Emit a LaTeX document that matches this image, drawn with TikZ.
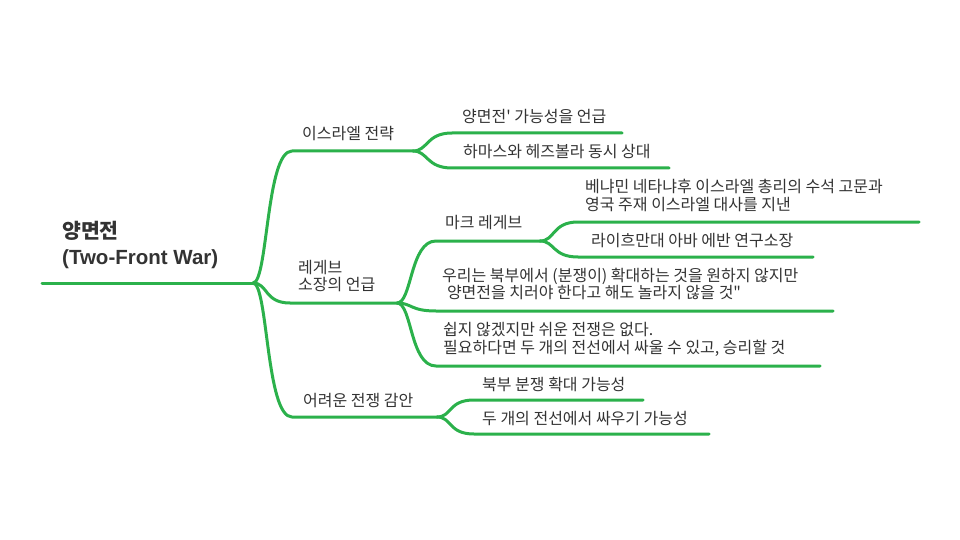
\documentclass[tikz,border=0pt]{standalone}
\usepackage{fontspec}
\setmainfont{Noto Sans CJK KR}[Ligatures=TeXOff]
\newfontfamily\latinfont{Liberation Sans}
\definecolor{branchgreen}{RGB}{43,177,75}
\definecolor{textgray}{RGB}{51,51,51}
\begin{document}
\begin{tikzpicture}[x=1pt, y=-1pt, line join=round, line cap=round,
    edge/.style={draw=branchgreen, line width=3pt},
    topic/.style={anchor=west, inner sep=0pt, text=textgray, align=left, font=\fontsize{16}{17.5}\selectfont}]
    \useasboundingbox (0,0) rectangle (960,540);
    \path
    (42,283) coordinate (root-s) (253,283) coordinate (root-e)
    (292,151) coordinate (isr-s) (413,151) coordinate (isr-e)
    (290,303) coordinate (reg-s) (397,303) coordinate (reg-e)
    (292,417) coordinate (hard-s) (437,417) coordinate (hard-e)
    (452,133) coordinate (yang-s) (622,133) coordinate (yang-e)
    (452,168) coordinate (hamas-s) (669,168) coordinate (hamas-e)
    (436,241) coordinate (mark-s) (540,241) coordinate (mark-e)
    (578,222) coordinate (bibi-s) (919,222) coordinate (bibi-e)
    (578,257) coordinate (reich-s) (813,257) coordinate (reich-e)
    (436,311) coordinate (quote-s) (833,311) coordinate (quote-e)
    (436,366) coordinate (easy-s) (820,366) coordinate (easy-e)
    (474,400) coordinate (north-s) (643,400) coordinate (north-e)
    (474,434) coordinate (two-s) (709,434) coordinate (two-e) ;
    \draw[edge] (root-s)--(root-e);
    \foreach \p/\c in {root/isr,root/reg,root/hard,isr/yang,isr/hamas,reg/mark,reg/quote,reg/easy,mark/bibi,mark/reich,hard/north,hard/two}
    \draw[edge] (\p-e) .. controls +(15,0) and +(-26,0) .. (\c-s)--(\c-e);
    \node[topic, font=\bfseries\fontsize{20.5}{26}\selectfont] (root) at (62,245) {양면전\\{\latinfont\bfseries (Two-Front War)}};
    \node[topic] (isr) at (302,134) {이스라엘 전략};
    \node[topic] (reg) at (298,276) {레게브\\소장의 언급};
    \node[topic] (hard) at (303,401) {어려운 전쟁 감안};
    \node[topic] (yang) at (462,117) {양면전' 가능성을 언급};
    \node[topic] (hamas) at (463,152) {하마스와 헤즈볼라 동시 상대};
    \node[topic] (mark) at (445,223) {마크 레게브};
    \node[topic] (bibi) at (585,195.5) {베냐민 네타냐후 이스라엘 총리의 수석 고문과\\영국 주재 이스라엘 대사를 지낸};
    \node[topic] (reich) at (591,241) {라이흐만대 아바 에반 연구소장};
    \node[topic] (quote) at (442,284) {우리는 북부에서 (분쟁이) 확대하는 것을 원하지 않지만\\\hspace*{0.3em}양면전을 치러야 한다고 해도 놀라지 않을 것"};
    \node[topic] (easy) at (443,339.5) {쉽지 않겠지만 쉬운 전쟁은 없다.\\필요하다면 두 개의 전선에서 싸울 수 있고, 승리할 것};
    \node[topic] (north) at (482,384) {북부 분쟁 확대 가능성};
    \node[topic] (two) at (482,419) {두 개의 전선에서 싸우기 가능성};
\end{tikzpicture}
\end{document}
